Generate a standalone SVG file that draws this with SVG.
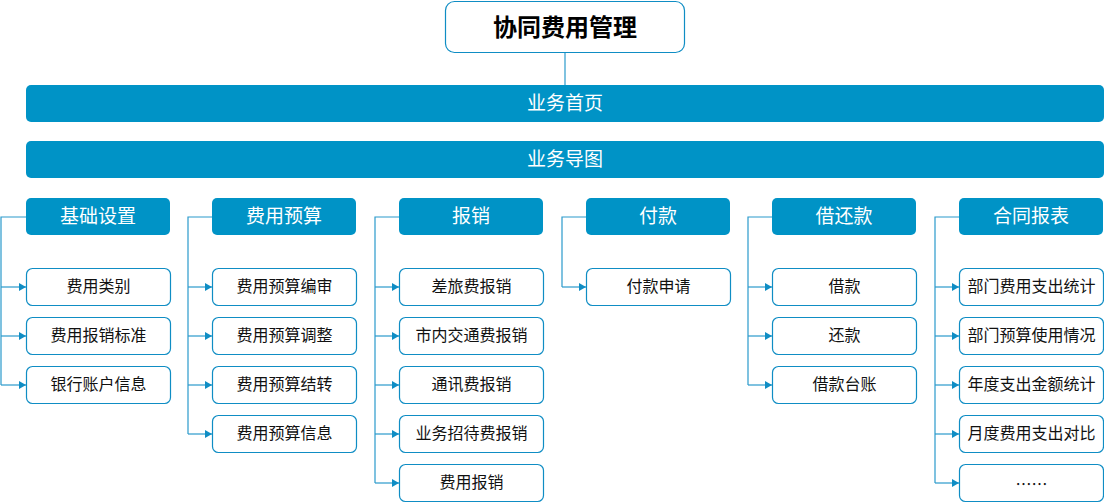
<svg xmlns="http://www.w3.org/2000/svg" width="1104" height="503" viewBox="0 0 1104 503">
<style>
.bar{fill:#0093C6}
.hdr{fill:#0093C6}
.box{fill:#fff;stroke:#0F8DC4;stroke-width:1.2}
.wt{fill:#fff;font-family:"Noto Sans CJK SC","Liberation Sans",sans-serif;font-size:19px;text-anchor:middle;dominant-baseline:central}
.bt{fill:#111;font-family:"Noto Sans CJK SC","Liberation Sans",sans-serif;font-size:16px;text-anchor:middle;dominant-baseline:central}
.ttl{fill:#000;font-family:"Noto Sans CJK SC","Liberation Sans",sans-serif;font-size:24px;font-weight:bold;text-anchor:middle;dominant-baseline:central}
.ln{fill:none;stroke:#2A9ACC;stroke-width:1.2}
</style>
<defs>
<marker id="ah" markerWidth="8" markerHeight="8" refX="7" refY="4" orient="auto" markerUnits="userSpaceOnUse">
<path d="M0,0 L7,4 L0,8 Z" fill="#0F8DC4"/>
</marker>
</defs>
<g id="connectors">
<path class="ln" d="M565,52 V85"/>
<path class="ln" d="M26,217 H1 V385"/>
<path class="ln" d="M1,287 H26" marker-end="url(#ah)"/>
<path class="ln" d="M1,336 H26" marker-end="url(#ah)"/>
<path class="ln" d="M1,385 H26" marker-end="url(#ah)"/>
<path class="ln" d="M212,217 H188 V434"/>
<path class="ln" d="M188,287 H212" marker-end="url(#ah)"/>
<path class="ln" d="M188,336 H212" marker-end="url(#ah)"/>
<path class="ln" d="M188,385 H212" marker-end="url(#ah)"/>
<path class="ln" d="M188,434 H212" marker-end="url(#ah)"/>
<path class="ln" d="M399,217 H375 V483"/>
<path class="ln" d="M375,287 H399" marker-end="url(#ah)"/>
<path class="ln" d="M375,336 H399" marker-end="url(#ah)"/>
<path class="ln" d="M375,385 H399" marker-end="url(#ah)"/>
<path class="ln" d="M375,434 H399" marker-end="url(#ah)"/>
<path class="ln" d="M375,483 H399" marker-end="url(#ah)"/>
<path class="ln" d="M586,217 H562 V287"/>
<path class="ln" d="M562,287 H586" marker-end="url(#ah)"/>
<path class="ln" d="M772,217 H748 V385"/>
<path class="ln" d="M748,287 H772" marker-end="url(#ah)"/>
<path class="ln" d="M748,336 H772" marker-end="url(#ah)"/>
<path class="ln" d="M748,385 H772" marker-end="url(#ah)"/>
<path class="ln" d="M959,217 H935 V483"/>
<path class="ln" d="M935,287 H959" marker-end="url(#ah)"/>
<path class="ln" d="M935,336 H959" marker-end="url(#ah)"/>
<path class="ln" d="M935,385 H959" marker-end="url(#ah)"/>
<path class="ln" d="M935,434 H959" marker-end="url(#ah)"/>
<path class="ln" d="M935,483 H959" marker-end="url(#ah)"/>
</g>
<g id="root"><rect class="box" x="445.5" y="1.5" width="239" height="51" rx="9"/><text class="ttl" x="565" y="25">协同费用管理</text></g>
<g id="home"><rect class="bar" x="26" y="85" width="1078" height="37" rx="5"/><text class="wt" x="565" y="101.5">业务首页</text></g>
<g id="map"><rect class="bar" x="26" y="141" width="1078" height="37" rx="5"/><text class="wt" x="565" y="157.5">业务导图</text></g>

<g id="h1"><rect class="hdr" x="26" y="198" width="144" height="37" rx="5"/><text class="wt" x="98" y="214.5">基础设置</text></g>
<g id="h2"><rect class="hdr" x="212" y="198" width="144" height="37" rx="5"/><text class="wt" x="284" y="214.5">费用预算</text></g>
<g id="h3"><rect class="hdr" x="399" y="198" width="144" height="37" rx="5"/><text class="wt" x="471" y="214.5">报销</text></g>
<g id="h4"><rect class="hdr" x="586" y="198" width="144" height="37" rx="5"/><text class="wt" x="658" y="214.5">付款</text></g>
<g id="h5"><rect class="hdr" x="772" y="198" width="144" height="37" rx="5"/><text class="wt" x="844" y="214.5">借还款</text></g>
<g id="h6"><rect class="hdr" x="959" y="198" width="144" height="37" rx="5"/><text class="wt" x="1031" y="214.5">合同报表</text></g>

<g id="c1a"><rect class="box" x="26.5" y="268.5" width="144" height="37" rx="6"/><text class="bt" x="98.5" y="285">费用类别</text></g>
<g id="c1b"><rect class="box" x="26.5" y="317.5" width="144" height="37" rx="6"/><text class="bt" x="98.5" y="334">费用报销标准</text></g>
<g id="c1c"><rect class="box" x="26.5" y="366.5" width="144" height="37" rx="6"/><text class="bt" x="98.5" y="383">银行账户信息</text></g>

<g id="c2a"><rect class="box" x="212.5" y="268.5" width="144" height="37" rx="6"/><text class="bt" x="284.5" y="285">费用预算编审</text></g>
<g id="c2b"><rect class="box" x="212.5" y="317.5" width="144" height="37" rx="6"/><text class="bt" x="284.5" y="334">费用预算调整</text></g>
<g id="c2c"><rect class="box" x="212.5" y="366.5" width="144" height="37" rx="6"/><text class="bt" x="284.5" y="383">费用预算结转</text></g>
<g id="c2d"><rect class="box" x="212.5" y="415.5" width="144" height="37" rx="6"/><text class="bt" x="284.5" y="432">费用预算信息</text></g>

<g id="c3a"><rect class="box" x="399.5" y="268.5" width="144" height="37" rx="6"/><text class="bt" x="471.5" y="285">差旅费报销</text></g>
<g id="c3b"><rect class="box" x="399.5" y="317.5" width="144" height="37" rx="6"/><text class="bt" x="471.5" y="334">市内交通费报销</text></g>
<g id="c3c"><rect class="box" x="399.5" y="366.5" width="144" height="37" rx="6"/><text class="bt" x="471.5" y="383">通讯费报销</text></g>
<g id="c3d"><rect class="box" x="399.5" y="415.5" width="144" height="37" rx="6"/><text class="bt" x="471.5" y="432">业务招待费报销</text></g>
<g id="c3e"><rect class="box" x="399.5" y="464.5" width="144" height="37" rx="6"/><text class="bt" x="471.5" y="481">费用报销</text></g>

<g id="c4a"><rect class="box" x="586.5" y="268.5" width="144" height="37" rx="6"/><text class="bt" x="658.5" y="285">付款申请</text></g>

<g id="c5a"><rect class="box" x="772.5" y="268.5" width="144" height="37" rx="6"/><text class="bt" x="844.5" y="285">借款</text></g>
<g id="c5b"><rect class="box" x="772.5" y="317.5" width="144" height="37" rx="6"/><text class="bt" x="844.5" y="334">还款</text></g>
<g id="c5c"><rect class="box" x="772.5" y="366.5" width="144" height="37" rx="6"/><text class="bt" x="844.5" y="383">借款台账</text></g>

<g id="c6a"><rect class="box" x="959.5" y="268.5" width="144" height="37" rx="6"/><text class="bt" x="1031.5" y="285">部门费用支出统计</text></g>
<g id="c6b"><rect class="box" x="959.5" y="317.5" width="144" height="37" rx="6"/><text class="bt" x="1031.5" y="334">部门预算使用情况</text></g>
<g id="c6c"><rect class="box" x="959.5" y="366.5" width="144" height="37" rx="6"/><text class="bt" x="1031.5" y="383">年度支出金额统计</text></g>
<g id="c6d"><rect class="box" x="959.5" y="415.5" width="144" height="37" rx="6"/><text class="bt" x="1031.5" y="432">月度费用支出对比</text></g>
<g id="c6e"><rect class="box" x="959.5" y="464.5" width="144" height="37" rx="6"/><text class="bt" x="1031.5" y="483">……</text></g>
</svg>
